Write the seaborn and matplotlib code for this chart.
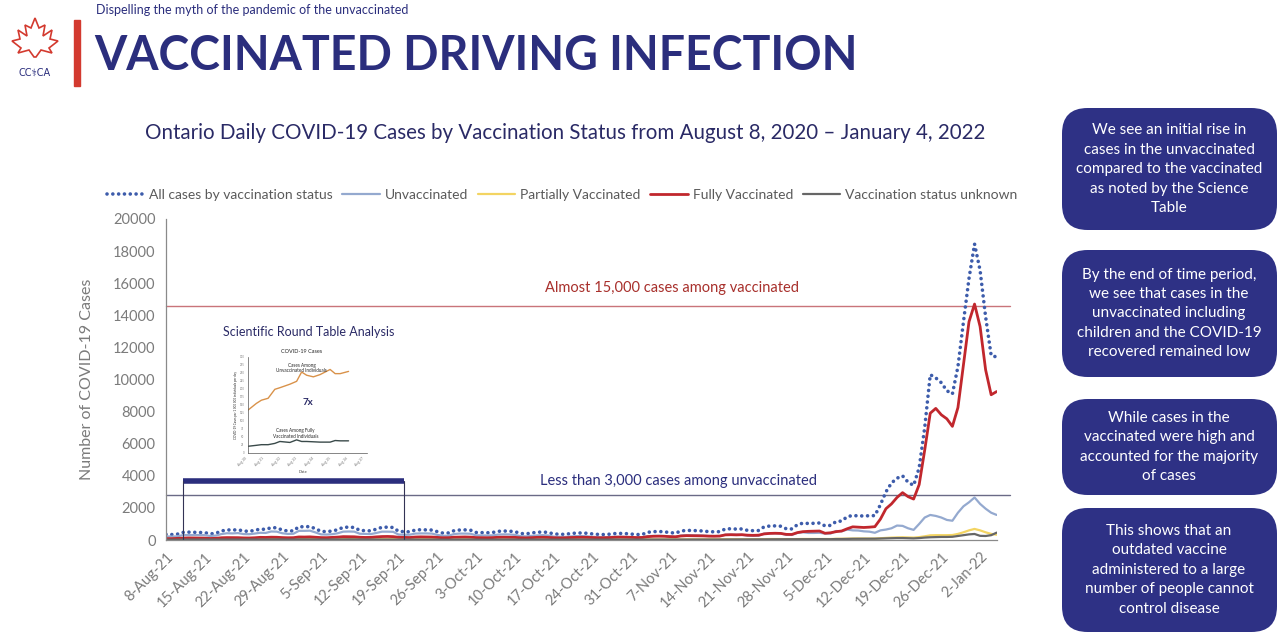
"""
Ontario daily COVID-19 cases by vaccination status (Aug 2021 - Jan 2022), slide recreation.
"""

import matplotlib
matplotlib.use("Agg")
import matplotlib.pyplot as plt
from matplotlib.patches import FancyBboxPatch, Polygon, Rectangle
import pandas as pd
import seaborn as sns

# daily values, one row per week starting Sunday 8-Aug-21 (last row 2-Jan .. 5-Jan)
all_cases = [
    350, 340, 360, 470, 490, 480, 470,
    460, 380, 420, 560, 630, 620, 640,
    560, 540, 600, 680, 660, 770, 760,
    620, 560, 570, 830, 820, 840, 700,
    540, 520, 560, 640, 790, 800, 780,
    600, 580, 570, 680, 790, 800, 780,
    540, 520, 510, 620, 640, 630, 620,
    520, 430, 440, 580, 620, 630, 610,
    470, 460, 450, 470, 540, 560, 550,
    520, 410, 380, 440, 480, 500, 470,
    380, 360, 350, 400, 430, 440, 420,
    380, 350, 340, 360, 400, 410, 400,
    370, 340, 350, 480, 520, 530, 510,
    460, 430, 560, 600, 590, 580, 560,
    520, 510, 520, 690, 700, 680, 690,
    600, 580, 590, 820, 870, 880, 860,
    700, 690, 950, 1050, 1030, 1040, 1060,
    880, 910, 1150, 1180, 1450, 1530, 1500,
    1500, 1510, 1520, 2200, 3000, 3550, 3850,
    4000, 3600, 3400, 4500, 7000, 10300, 10100,
    9800, 9300, 9100, 10800, 13600, 16300, 18440,
    16800, 13900, 11500, 11400,
]
unvaccinated = [
    220, 215, 225, 300, 310, 305, 300,
    300, 250, 275, 370, 420, 410, 430,
    370, 360, 400, 450, 440, 530, 520,
    420, 380, 390, 570, 570, 580, 470,
    350, 340, 360, 420, 520, 530, 520,
    390, 380, 370, 440, 520, 520, 510,
    340, 330, 330, 400, 410, 410, 400,
    320, 260, 270, 370, 400, 400, 390,
    290, 285, 280, 290, 340, 350, 345,
    320, 240, 225, 260, 285, 300, 280,
    210, 200, 190, 220, 240, 245, 230,
    200, 185, 175, 185, 205, 205, 200,
    180, 165, 165, 240, 260, 265, 250,
    220, 200, 280, 300, 295, 290, 275,
    250, 245, 245, 330, 335, 330, 330,
    270, 260, 260, 400, 420, 420, 410,
    320, 315, 440, 480, 440, 440, 450,
    400, 400, 560, 540, 650, 600, 590,
    540, 520, 450, 600, 650, 730, 900,
    880, 730, 630, 1000, 1400, 1560, 1500,
    1400, 1250, 1200, 1700, 2100, 2350, 2650,
    2250, 1950, 1700, 1560,
]
partially = [
    45, 40, 45, 55, 55, 50, 50,
    50, 40, 45, 55, 60, 60, 60,
    55, 50, 55, 60, 60, 65, 65,
    55, 45, 45, 60, 65, 65, 55,
    45, 40, 45, 50, 55, 55, 50,
    45, 40, 40, 45, 50, 50, 50,
    40, 35, 35, 40, 45, 45, 40,
    35, 30, 30, 35, 40, 40, 40,
    30, 30, 30, 30, 35, 35, 35,
    30, 25, 25, 30, 30, 30, 30,
    25, 25, 25, 25, 30, 30, 30,
    25, 25, 25, 25, 30, 30, 30,
    25, 25, 25, 30, 35, 35, 35,
    30, 30, 35, 40, 40, 40, 40,
    35, 35, 40, 45, 45, 45, 45,
    40, 40, 45, 55, 60, 60, 60,
    50, 50, 60, 65, 65, 70, 70,
    60, 60, 75, 80, 90, 95, 95,
    90, 90, 90, 110, 130, 150, 160,
    170, 160, 150, 180, 230, 290, 300,
    300, 300, 310, 380, 480, 600, 690,
    600, 480, 380, 330,
]
fully_vaccinated = [
    90, 85, 100, 120, 130, 125, 120,
    115, 95, 105, 140, 150, 150, 145,
    130, 125, 140, 165, 160, 175, 170,
    150, 140, 145, 190, 185, 195, 175,
    150, 145, 160, 180, 210, 205, 200,
    170, 160, 165, 195, 215, 220, 210,
    170, 160, 155, 185, 195, 190, 185,
    165, 140, 145, 175, 185, 190, 180,
    150, 145, 140, 150, 170, 175, 170,
    165, 140, 130, 150, 165, 170, 160,
    140, 130, 135, 155, 165, 170, 165,
    150, 140, 140, 150, 170, 180, 175,
    165, 150, 160, 210, 230, 235, 230,
    210, 200, 250, 270, 265, 260, 255,
    240, 235, 245, 320, 330, 320, 330,
    300, 290, 300, 380, 410, 420, 410,
    350, 345, 460, 520, 540, 550, 560,
    420, 450, 520, 560, 700, 820, 800,
    780, 800, 830, 1300, 1950, 2250, 2650,
    2950, 2700, 2550, 3450, 5600, 7900, 8200,
    7800, 7550, 7080, 8250, 10900, 13600, 14700,
    13300, 10600, 9050, 9250,
]
status_unknown = [
    25, 20, 25, 30, 30, 30, 30,
    30, 25, 25, 30, 35, 35, 35,
    30, 30, 30, 35, 35, 40, 40,
    35, 30, 30, 40, 40, 40, 35,
    30, 30, 30, 35, 40, 40, 35,
    30, 30, 30, 35, 35, 35, 35,
    30, 25, 25, 30, 30, 30, 30,
    25, 20, 20, 25, 30, 30, 30,
    25, 25, 20, 25, 25, 25, 25,
    25, 20, 20, 20, 25, 25, 25,
    20, 20, 20, 20, 25, 25, 25,
    20, 20, 20, 20, 25, 25, 25,
    20, 20, 20, 25, 30, 30, 30,
    25, 25, 30, 30, 30, 30, 30,
    30, 30, 30, 35, 35, 35, 35,
    30, 30, 35, 40, 45, 45, 45,
    40, 40, 45, 50, 50, 55, 55,
    50, 50, 60, 60, 70, 75, 75,
    75, 75, 80, 90, 100, 110, 120,
    120, 110, 100, 120, 150, 170, 180,
    190, 190, 200, 250, 300, 350, 375,
    260, 250, 300, 460,
]
dates = pd.date_range("2021-08-08", periods=len(all_cases), freq="D")

series_names = ["All cases by vaccination status", "Unvaccinated", "Partially Vaccinated",
                "Fully Vaccinated", "Vaccination status unknown"]
series_values = [all_cases, unvaccinated, partially, fully_vaccinated, status_unknown]

vaccinated_ref = 14600
unvaccinated_ref = 2800
bracket_dates = ["2021-08-11", "2021-09-20"]

# small science table inset (copied chart)
sci_x = [0, 25, 40, 60, 80, 95, 125, 145, 160, 175, 195, 215, 245, 260, 275, 300]
sci_unvax = [134, 155, 165, 171, 199, 204, 215, 224, 253, 243, 238, 245, 261, 248, 248, 255]
sci_fully = [21, 24, 26, 26, 30, 36, 33, 41, 36, 36, 35, 34, 34, 39, 38, 38]

side_notes = [
    "We see an initial rise in\ncases in the unvaccinated\ncompared to the vaccinated\nas noted by the Science\nTable",
    "By the end of time period,\nwe see that cases in the\nunvaccinated including\nchildren and the COVID-19\nrecovered remained low",
    "While cases in the\nvaccinated were high and\naccounted for the majority\nof cases",
    "This shows that an\noutdated vaccine\nadministered to a large\nnumber of people cannot\ncontrol disease",
]

NAVY = "#2b2e7d"
GREY = "#7b7b7b"
colors = ["#3d5cab", "#94a9cf", "#f3d462", "#c1272d", "#666666"]

sns.set_style("white")
plt.rcParams["font.family"] = ["Lato", "DejaVu Sans"]

W, H = 1280, 634
fig = plt.figure(figsize=(W / 100, H / 100), dpi=100)


def fx(x):
    return x / W


def fy(y):
    return 1 - y / H


# header
fig.text(fx(96), fy(10), "Dispelling the myth of the pandemic of the unvaccinated", color=NAVY, fontsize=9, va="center")
fig.text(fx(94), fy(56), "VACCINATED DRIVING INFECTION", color=NAVY, fontsize=33.5, fontweight="bold", va="center")
fig.add_artist(Rectangle((fx(74), fy(86)), fx(6), (86 - 20) / H, transform=fig.transFigure, color="#d33a2f"))
leaf_half = [(35, 18), (39, 28), (45, 25), (43, 36), (52, 30), (50, 39), (58, 41), (49, 48), (52, 53), (41, 50), (36, 57)]
leaf = leaf_half + [(70 - x, y) for x, y in reversed(leaf_half[1:])]
fig.add_artist(Polygon([(fx(x), fy(y)) for x, y in leaf], closed=True, fill=False, edgecolor="#d33a2f",
                       linewidth=1.2, transform=fig.transFigure))
fig.text(fx(35), fy(73), "CC⚕CA", color=NAVY, fontsize=7, ha="center", va="center", family=["DejaVu Sans"])

# chart title
fig.text(fx(565), fy(133), "Ontario Daily COVID-19 Cases by Vaccination Status from August 8, 2020 \u2013 January 4, 2022",
         color="#2a2a66", fontsize=14.8, ha="center", va="center")

# main chart
ax = fig.add_axes([fx(166), fy(540), fx(996.7) - fx(166), (540 - 219) / H])
for name, values, color in zip(series_names, series_values, colors):
    frame = pd.DataFrame({"date": dates, "cases": values})
    if name.startswith("All"):
        sns.lineplot(data=frame, x="date", y="cases", ax=ax, color=color, linewidth=2.6, label=name,
                     linestyle=(0, (0.01, 1.6)), dash_capstyle="round")
    else:
        lw = 2.0 if name == "Fully Vaccinated" else 1.6
        sns.lineplot(data=frame, x="date", y="cases", ax=ax, color=color, linewidth=lw, label=name)

ax.set_xlim(dates[0], dates[-1])
ax.set_ylim(0, 20000)
ax.set_yticks(range(0, 20001, 2000))
ax.set_yticklabels([str(v) for v in range(0, 20001, 2000)])
week_ticks = dates[::7]
ax.set_xticks(week_ticks)
ax.set_xticklabels([f"{d.day}-{d.strftime('%b-%y')}" for d in week_ticks], rotation=45, ha="right",
                   rotation_mode="anchor")
ax.tick_params(axis="both", colors=GREY, labelsize=10.5, length=4, width=0.8, direction="out")
ax.tick_params(axis="x", pad=3)
ax.set_xlabel("")
ax.set_ylabel("Number of COVID-19 Cases", color=GREY, fontsize=11.5, labelpad=14)
for side in ["top", "right"]:
    ax.spines[side].set_visible(False)
for side in ["left", "bottom"]:
    ax.spines[side].set_color("#8a8a8a")
    ax.spines[side].set_linewidth(0.9)

ax.axhline(vaccinated_ref, xmin=0, xmax=1.016, color="#c9747a", linewidth=1.0, clip_on=False, zorder=1)
ax.axhline(unvaccinated_ref, xmin=0, xmax=1.016, color="#6a6a86", linewidth=1.0, clip_on=False, zorder=1)
fig.text(fx(672), fy(288), "Almost 15,000 cases among vaccinated", color="#a8302c", fontsize=10.5, ha="center", va="center")
fig.text(fx(678), fy(481), "Less than 3,000 cases among unvaccinated", color=NAVY, fontsize=10.5, ha="center", va="center")

b0, b1 = pd.Timestamp(bracket_dates[0]), pd.Timestamp(bracket_dates[1])
ax.plot([b0, b1], [3650, 3650], color=NAVY, linewidth=4, solid_capstyle="butt", clip_on=False)
ax.plot([b0, b0], [3650, 0], color="#333355", linewidth=0.8)
ax.plot([b1, b1], [3650, 0], color="#333355", linewidth=0.8)

handles, labels = ax.get_legend_handles_labels()
ax.legend_.remove()
leg = fig.legend(handles, labels, loc="center", bbox_to_anchor=(fx(562), fy(195)), ncol=5, frameon=False,
                 fontsize=10, handlelength=2.7, handletextpad=0.35, columnspacing=0.7)
for t in leg.get_texts():
    t.set_color("#5a5a5a")

# science table inset
fig.text(fx(309), fy(332), "Scientific Round Table Analysis", color="#2a2a66", fontsize=9, ha="center", va="center")
inset = fig.add_axes([fx(248), fy(453), fx(367) - fx(248), (453 - 357) / H])
sns.lineplot(x=sci_x, y=sci_unvax, ax=inset, color="#d9924a", linewidth=1.0)
sns.lineplot(x=sci_x, y=sci_fully, ax=inset, color="#3a4a4a", linewidth=1.0)
inset.set_xlim(0, 355)
inset.set_ylim(0, 300)
inset.set_xticks(range(0, 356, 50))
inset.set_xticklabels(["Aug 2" + str(i) for i in range(8)], rotation=45, ha="right", fontsize=2.5, color=GREY)
inset.set_yticks(range(0, 301, 25))
inset.set_yticklabels([str(v) for v in range(0, 301, 25)], fontsize=2, color=GREY)
inset.tick_params(length=1.5, width=0.4, pad=1)
for side in ["top", "right"]:
    inset.spines[side].set_visible(False)
for side in ["left", "bottom"]:
    inset.spines[side].set_linewidth(0.5)
    inset.spines[side].set_color("#555555")
inset.set_ylabel("COVID-19 Cases per 1 000 000 individuals per day", fontsize=2.2, labelpad=1)
inset.text(0.45, 1.04, "COVID-19 Cases", transform=inset.transAxes, fontsize=4, ha="center")
inset.text(0.45, 0.84, "Cases Among\nUnvaccinated Individuals", transform=inset.transAxes, fontsize=3.3, ha="center",
           linespacing=1.1)
inset.text(0.5, 0.5, "7x", transform=inset.transAxes, fontsize=7, fontweight="bold", color="#2a2a66", ha="center")
inset.text(0.4, 0.16, "Cases Among Fully\nVaccinated Individuals", transform=inset.transAxes, fontsize=3.3, ha="center",
           linespacing=1.1)
fig.text(fx(303), fy(473), "Date", fontsize=3, ha="center", color="#444444")

# side notes
boxes = [(108, 230), (250, 377), (399, 495), (508, 632)]
for (top, bottom), note in zip(boxes, side_notes):
    fig.add_artist(FancyBboxPatch((fx(1062), fy(bottom)), fx(1277) - fx(1062), (bottom - top) / H,
                                  boxstyle="round,pad=0,rounding_size=0.02", transform=fig.transFigure,
                                  facecolor="#2e3185", edgecolor="none", mutation_aspect=W / H))
    fig.text(fx(1169), fy((top + bottom) / 2), note, color="white", fontsize=11, ha="center", va="center",
             linespacing=1.5)

fig.savefig("out.png", dpi=100)
